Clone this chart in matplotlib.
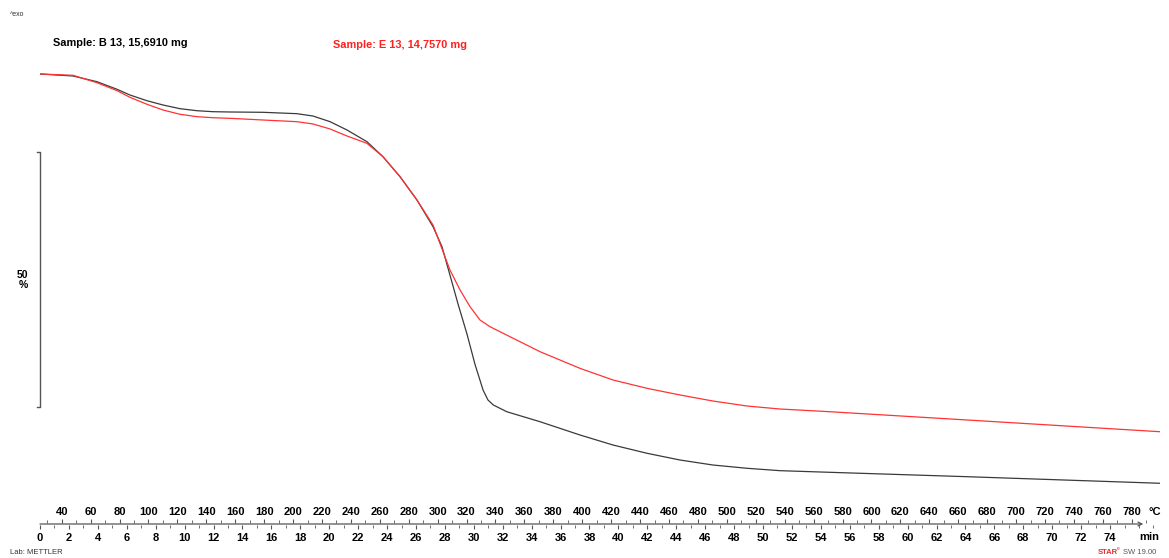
import numpy as np
import matplotlib.pyplot as plt
from matplotlib.ticker import MultipleLocator

plt.rcParams['font.family'] = ['Liberation Sans', 'DejaVu Sans']

# TGA curves: time (min) and mass (%)
b13_time = [0, 2.28, 3.94, 5.33, 6.22, 7.40, 8.51, 9.68, 10.86, 11.96, 13.14, 15.42,
            17.77, 18.88, 20.06, 21.23, 22.61, 23.72, 24.90, 26.07, 27.18, 27.80,
            28.35, 28.91, 29.53, 30.08, 30.64, 30.98, 31.35, 32.28, 34.58,
            37.34, 39.63, 41.98, 44.26, 46.54, 48.89, 51.18, 54.63, 64.11, 77.45]
b13_mass = [100, 99.61, 98.49, 97.0, 95.88, 94.76, 93.92, 93.20, 92.80, 92.61, 92.55, 92.49,
            92.22, 91.76, 90.65, 89.02, 86.73, 83.78, 79.86, 75.29, 70.06, 66.14,
            60.59, 54.90, 49.0, 43.1, 38.04, 36.08, 35.10, 33.78, 31.82,
            29.22, 27.25, 25.63, 24.31, 23.33, 22.69, 22.22, 21.90, 21.04, 19.75]

e13_time = [0, 2.28, 3.94, 5.33, 6.22, 7.40, 8.51, 9.68, 10.86, 11.96, 13.14, 15.42,
            17.77, 18.88, 20.06, 21.23, 22.61, 23.72, 24.90, 26.07, 27.18, 28.35,
            29.05, 29.74, 30.43, 31.12, 32.27, 34.58, 37.34, 39.63, 41.98, 44.26,
            46.54, 48.89, 51.18, 54.63, 64.11, 77.45]
e13_mass = [100, 99.75, 98.29, 96.73, 95.43, 94.06, 92.94, 92.10, 91.63, 91.43, 91.31, 90.98,
            90.65, 90.20, 89.22, 87.84, 86.41, 83.78, 79.86, 75.29, 70.39, 61.57,
            57.65, 54.37, 51.76, 50.45, 48.82, 45.55, 42.29, 40.0, 38.37, 37.06,
            35.88, 34.90, 34.31, 33.78, 32.16, 29.86]

time_ticks = list(range(0, 75, 2))
temp_ticks = list(range(40, 781, 20))
heating_start = 25.0   # degC at t=0
heating_rate = 10.0    # K/min

W, H = 1169, 558
fig = plt.figure(figsize=(W / 100, H / 100), dpi=100)

def px_box(x0, y0, x1, y1):
    return [x0 / W, 1 - y1 / H, (x1 - x0) / W, (y1 - y0) / H]

# main plot area, pixel 40..1160 wide, 60..500 tall
ax = fig.add_axes(px_box(40, 60, 1160, 500))
ax.set_xlim(0, 1120 / 14.46)
ax.set_ylim(100 - 426 / 5.1, 100 + 14 / 5.1)
ax.axis('off')
ax.plot(b13_time, b13_mass, color='#3a3a3a', lw=0.9)
ax.plot(e13_time, e13_mass, color='#ff3333', lw=0.9)

# 50 % scale bar
ax.plot([-0.2, 0, 0, -0.2], [84.7, 84.7, 34.7, 34.7], color='#555555', lw=1.0,
        clip_on=False)
ax.text(-0.8, 59.7, '50\n%', ha='right', va='center', fontsize=7.5,
        fontweight='bold', linespacing=1.0)

# time / temperature axis
ax2 = fig.add_axes(px_box(40, 523.5, 1160, 524.5))
ax2.set_xlim(ax.get_xlim())
ax2.set_ylim(0, 1)
for s in ax2.spines.values():
    s.set_visible(False)
ax2.set_yticks([])
ax2.annotate('', xy=(76.3, 0.5), xytext=(0, 0.5),
             arrowprops=dict(arrowstyle='->', color='#555555', lw=0.9,
                             shrinkA=0, shrinkB=0, mutation_scale=7))
ax2.set_xticks(time_ticks)
ax2.set_xticklabels([str(t) for t in time_ticks], fontsize=8, fontweight='bold')
ax2.xaxis.set_minor_locator(MultipleLocator(1))
ax2.tick_params(axis='x', which='major', direction='out', length=3, width=0.8,
                color='#555555', pad=3)
ax2.tick_params(axis='x', which='minor', direction='out', length=2, width=0.6,
                color='#555555')

sec = ax2.secondary_xaxis('top', functions=(lambda t: heating_start + heating_rate * t,
                                            lambda T: (T - heating_start) / heating_rate))
sec.set_xticks(temp_ticks)
sec.set_xticklabels([str(T) for T in temp_ticks], fontsize=8, fontweight='bold')
sec.xaxis.set_minor_locator(MultipleLocator(10))
sec.spines['top'].set_visible(False)
sec.tick_params(axis='x', which='major', direction='out', length=3, width=0.8,
                color='#555555', pad=2)
sec.tick_params(axis='x', which='minor', direction='out', length=2, width=0.6,
                color='#555555')

fig.text(1155 / W, 1 - 512 / H, '°C', ha='center', va='center', fontsize=8,
         fontweight='bold')
fig.text(1149 / W, 1 - 537 / H, 'min', ha='center', va='center', fontsize=8,
         fontweight='bold')

# header / footer texts
fig.text(10 / W, 1 - 15 / H, '^exo', ha='left', va='center', fontsize=5,
         color='#333333')
fig.text(53 / W, 1 - 43 / H, 'Sample: B 13, 15,6910 mg', ha='left', va='center',
         fontsize=7.9, fontweight='bold', color='black')
fig.text(333 / W, 1 - 45 / H, 'Sample: E 13, 14,7570 mg', ha='left', va='center',
         fontsize=7.9, fontweight='bold', color='#ff2020')
fig.text(10 / W, 1 - 552 / H, 'Lab: METTLER', ha='left', va='center', fontsize=5.5,
         color='#333333')
fig.text(1098 / W, 1 - 552 / H, 'STAR', ha='left', va='center', fontsize=5.5,
         color='#e03030', fontweight='bold')
fig.text(1117 / W, 1 - 549 / H, 'e', ha='left', va='center', fontsize=3.5,
         color='#e03030')
fig.text(1123 / W, 1 - 552 / H, 'SW 19.00', ha='left', va='center', fontsize=5.5,
         color='#555555')

fig.savefig('out.png', dpi=100)
